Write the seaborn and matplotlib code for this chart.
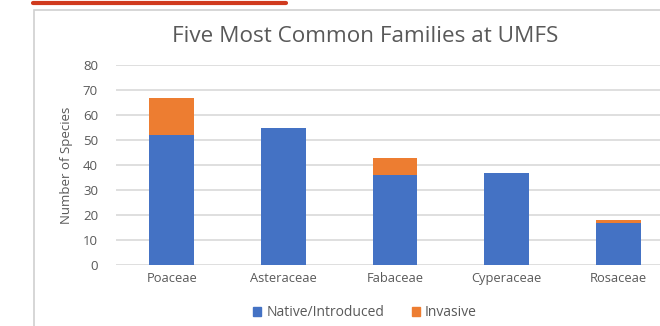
import matplotlib
matplotlib.use("Agg")
import matplotlib.pyplot as plt
from matplotlib.patches import Rectangle
from matplotlib.lines import Line2D
import seaborn as sns
import pandas as pd

families = ["Poaceae", "Asteraceae", "Fabaceae", "Cyperaceae", "Rosaceae"]
native = [52, 55, 36, 37, 17]
invasive = [15, 0, 7, 0, 1]
yticks = [0, 10, 20, 30, 40, 50, 60, 70, 80]

BLUE = "#4472C4"
ORANGE = "#ED7D31"
GRAY = "#595959"

sns.set_theme(style="white")
plt.rcParams["font.family"] = ["Open Sans", "DejaVu Sans"]

df = pd.DataFrame({"family": families, "native": native, "invasive": invasive})
df["total"] = df["native"] + df["invasive"]

fig = plt.figure(figsize=(6.6, 3.26), dpi=100)
W, H = 660, 326
ax = fig.add_axes([116 / W, (H - 265) / H, 558 / W, 200 / H])

sns.barplot(data=df, x="family", y="total", color=ORANGE, width=0.4,
            saturation=1, ax=ax, zorder=3, linewidth=0)
sns.barplot(data=df, x="family", y="native", color=BLUE, width=0.4,
            saturation=1, ax=ax, zorder=3, linewidth=0)

ax.set_xlim(-0.5, 4.5)
ax.set_ylim(0, 80)
ax.set_yticks(yticks)
ax.set_yticklabels([str(v) for v in yticks], color=GRAY, fontsize=9.5)
ax.tick_params(axis="x", colors=GRAY, labelsize=9.3, length=0, pad=5)
ax.tick_params(axis="y", length=0, pad=13)
ax.yaxis.grid(True, color="#d9d9d9", linewidth=1.2, zorder=0)
ax.set_axisbelow(True)
for s in ax.spines.values():
    s.set_visible(False)
ax.set_xlabel("")
ax.set_ylabel("Number of Species", color=GRAY, fontsize=9.5, labelpad=7)

fig.text(365 / W, 1 - 37 / H, "Five Most Common Families at UMFS",
         ha="center", va="center", color=GRAY, fontsize=16.2)

# frame and red top line
fig.patches.append(Rectangle((34 / W, -0.05), 1.0, 1 - 9.5 / H + 0.05,
                             transform=fig.transFigure, fill=False,
                             edgecolor="#d0d0d0", linewidth=1.2, zorder=0))
fig.lines.append(Line2D([33 / W, 286 / W], [1 - 3 / H, 1 - 3 / H],
                        transform=fig.transFigure, color="#d03a1e",
                        linewidth=3))

handles = [Rectangle((0, 0), 1, 1, color=BLUE), Rectangle((0, 0), 1, 1, color=ORANGE)]
fig.legend(handles, ["Native/Introduced", "Invasive"], loc="center",
           bbox_to_anchor=(365 / W, 1 - 313 / H), ncol=2, frameon=False,
           fontsize=10, labelcolor=GRAY, handlelength=0.55, handleheight=0.55,
           handletextpad=0.4, columnspacing=2.0)

fig.savefig("out.png", dpi=100)
